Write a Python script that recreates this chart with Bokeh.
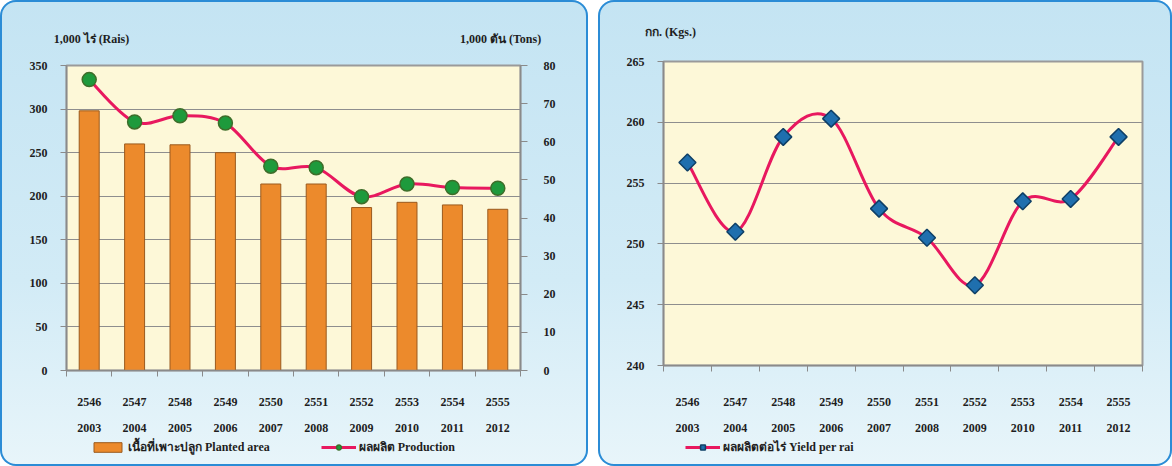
from bokeh.plotting import figure
from bokeh.models import (Range1d, LinearAxis, FixedTicker, Legend, LegendItem,
                          ColumnDataSource)
from bokeh.layouts import row, column
from bokeh.embed import file_html
from bokeh.resources import INLINE
import math

# ---------------- data ----------------
years_be = ["2546", "2547", "2548", "2549", "2550", "2551", "2552", "2553", "2554", "2555"]
years_ce = ["2003", "2004", "2005", "2006", "2007", "2008", "2009", "2010", "2011", "2012"]
planted_area = [298, 260, 259, 250, 214, 214, 187, 193, 190, 185]          # 1,000 rai
production = [76.3, 65.2, 66.8, 64.9, 53.6, 53.2, 45.6, 48.9, 48.0, 47.8]  # 1,000 tons
yield_per_rai = [256.7, 251.0, 258.8, 260.3, 252.9, 250.5, 246.6, 253.5, 253.7, 258.8]  # kg

left_ticks = [0, 50, 100, 150, 200, 250, 300, 350]
right_ticks = [0, 10, 20, 30, 40, 50, 60, 70, 80]
yield_ticks = [240, 245, 250, 255, 260, 265]

left_unit_title = "1,000 ไร่ (Rais)"
right_unit_title = "1,000 ตัน (Tons)"
yield_unit_title = "กก. (Kgs.)"
area_label = "เนื้อที่เพาะปลูก Planted area"
prod_label = "ผลผลิต Production"
yield_label = "ผลผลิตต่อไร่ Yield per rai"

# ---------------- styles ----------------
FONT = "Liberation Serif"
PLOT_BG = "#FDF8D8"
GRID = "#8E8E8E"
LINE = "#E8185F"
TXT = "#1E1E1E"
BAR_FILL = "#EC8A2C"
BAR_LINE = "#9A5A1E"
DOT_FILL = "#1E9A3C"
DOT_LINE = "#3E6E2A"
DIA_FILL = "#1F6FAE"
DIA_LINE = "#0E3F66"
PANEL_STYLE = {"border-radius": "16px",
               "box-shadow": "inset 0 0 0 2px #2B8CD6",
               "background": "linear-gradient(to bottom, #C4E4F3 0%, #D2EBF6 60%, #E8F5FA 100%)"}

n = len(years_be)
centers = [i + 0.5 for i in range(n)]
bounds = [i for i in range(n + 1)]


def bezier_source(xs, ys):
    """Catmull-Rom style control points so bezier segments pass through data."""
    d = dict(x0=[], y0=[], x1=[], y1=[], cx0=[], cy0=[], cx1=[], cy1=[])
    m = len(xs)
    for i in range(m - 1):
        a = i - 1 if i > 0 else i
        b = i + 2 if i + 2 < m else i + 1
        d["x0"].append(xs[i]); d["y0"].append(ys[i])
        d["x1"].append(xs[i + 1]); d["y1"].append(ys[i + 1])
        d["cx0"].append(xs[i] + (xs[i + 1] - xs[a]) / 6.0)
        d["cy0"].append(ys[i] + (ys[i + 1] - ys[a]) / 6.0)
        d["cx1"].append(xs[i + 1] - (xs[b] - xs[i]) / 6.0)
        d["cy1"].append(ys[i + 1] - (ys[b] - ys[i]) / 6.0)
    return ColumnDataSource(d)


def style_common(p):
    p.background_fill_color = PLOT_BG
    p.border_fill_alpha = 0
    p.outline_line_color = "#9A9A9A"
    p.outline_line_width = 2
    p.xgrid.grid_line_color = None
    p.ygrid.grid_line_color = GRID
    p.ygrid.grid_line_width = 1


def style_axis(ax, tick_out=6, standoff=14):
    ax.axis_line_color = "#8A8A8A"
    ax.axis_line_width = 1.5
    ax.major_tick_line_color = "#8A8A8A"
    ax.major_tick_out = tick_out
    ax.major_tick_in = 0
    ax.minor_tick_line_color = None
    ax.major_label_text_font = FONT
    ax.major_label_text_font_style = "bold"
    ax.major_label_text_font_size = "12px"
    ax.major_label_text_color = TXT
    ax.major_label_standoff = standoff


def bare_axis(ax, standoff):
    style_axis(ax, tick_out=0, standoff=standoff)
    ax.axis_line_color = None
    ax.major_tick_line_color = None
    ax.minor_tick_line_color = None


def add_x_axes(p, std1, std2):
    ax = p.xaxis[0]
    ax.ticker = FixedTicker(ticks=centers, minor_ticks=bounds)
    ax.major_label_overrides = {c: lab for c, lab in zip(centers, years_be)}
    style_axis(ax, tick_out=0, standoff=std1)
    ax.major_tick_line_color = None
    ax.minor_tick_line_color = "#8A8A8A"
    ax.minor_tick_out = 6
    ax.minor_tick_in = 0
    ax2 = LinearAxis(ticker=FixedTicker(ticks=centers, minor_ticks=[]),
                     major_label_overrides={c: lab for c, lab in zip(centers, years_ce)})
    bare_axis(ax2, std2)
    p.add_layout(ax2, "below")


def add_unit_titles(p, positions, texts, standoff):
    ax = LinearAxis(ticker=FixedTicker(ticks=positions, minor_ticks=[]),
                    major_label_overrides={x: t for x, t in zip(positions, texts)})
    bare_axis(ax, standoff)
    p.add_layout(ax, "above")


def legend_figure(width, height, yr):
    f = figure(width=width, height=height, output_backend="svg", toolbar_location=None,
               x_range=Range1d(0, n), y_range=yr,
               x_axis_location=None, y_axis_location=None,
               min_border=0, min_border_left=0, min_border_right=0,
               min_border_top=0, min_border_bottom=0)
    f.background_fill_alpha = 0
    f.border_fill_alpha = 0
    f.outline_line_color = None
    f.grid.grid_line_color = None
    return f


def make_legend(items, loc, spacing=0):
    return Legend(items=items, orientation="horizontal", location=loc,
                  background_fill_alpha=0, border_line_color=None,
                  label_text_font=FONT, label_text_font_style="bold",
                  label_text_font_size="12px", label_text_color=TXT,
                  glyph_width=35, glyph_height=12, spacing=spacing,
                  padding=0, margin=0, label_standoff=3)


MAIN_H = 436
LEG_H = 30

# ---------------- left chart ----------------
p1 = figure(width=588, height=MAIN_H, x_range=Range1d(0, n), y_range=Range1d(0, 350),
            output_backend="svg", toolbar_location=None,
            min_border_left=66, min_border_right=68, min_border_top=65, min_border_bottom=66)
p1.extra_y_ranges = {"prod": Range1d(0, 80)}
style_common(p1)
p1.yaxis[0].ticker = FixedTicker(ticks=left_ticks, minor_ticks=[])
style_axis(p1.yaxis[0], tick_out=6, standoff=13)
p1.ygrid.ticker = FixedTicker(ticks=left_ticks, minor_ticks=[])
rax = LinearAxis(y_range_name="prod", ticker=FixedTicker(ticks=right_ticks, minor_ticks=[]))
style_axis(rax, tick_out=7, standoff=16)
p1.add_layout(rax, "right")
add_x_axes(p1, 21, 15)
add_unit_titles(p1, [0.55, 9.56], [left_unit_title, right_unit_title], 20)

bar_src = ColumnDataSource(dict(x=centers, top=planted_area))
prod_src = ColumnDataSource(dict(x=centers, y=production))
yield_src = ColumnDataSource(dict(x=centers, y=yield_per_rai))

p1.vbar(x="x", top="top", width=0.44, source=bar_src,
        fill_color=BAR_FILL, line_color=BAR_LINE, line_width=1)
p1.bezier(x0="x0", y0="y0", x1="x1", y1="y1", cx0="cx0", cy0="cy0", cx1="cx1", cy1="cy1",
          source=bezier_source(centers, production), y_range_name="prod",
          line_color=LINE, line_width=3)
p1.scatter(x="x", y="y", source=prod_src, y_range_name="prod", marker="circle", size=14,
           fill_color=DOT_FILL, line_color=DOT_LINE, line_width=1.5)

# legend strip: hidden copies of the series, used only for the legend swatches
l1 = legend_figure(588, LEG_H, Range1d(0, 350))
lb = l1.vbar(x="x", top="top", width=0.4, source=bar_src, visible=False,
             fill_color=BAR_FILL, line_color=BAR_LINE)
ll = l1.line(x="x", y="y", source=prod_src, visible=False, line_color=LINE, line_width=3)
ls = l1.scatter(x="x", y="y", source=prod_src, visible=False, marker="circle", size=14,
                fill_color=DOT_FILL, line_color=DOT_LINE, line_width=1.5)
l1.add_layout(make_legend([LegendItem(label=area_label, renderers=[lb]),
                           LegendItem(label=prod_label, renderers=[ll, ls])],
                          (24, 10), spacing=51))

# ---------------- right chart ----------------
p2 = figure(width=574, height=MAIN_H, x_range=Range1d(0, n), y_range=Range1d(240, 265),
            output_backend="svg", toolbar_location=None,
            min_border_left=65, min_border_right=30, min_border_top=61, min_border_bottom=71)
style_common(p2)
p2.yaxis[0].ticker = FixedTicker(ticks=yield_ticks, minor_ticks=[])
style_axis(p2.yaxis[0], tick_out=6, standoff=13)
p2.ygrid.ticker = FixedTicker(ticks=yield_ticks, minor_ticks=[])
add_x_axes(p2, 26, 15)
add_unit_titles(p2, [0.146], [yield_unit_title], 23)

p2.bezier(x0="x0", y0="y0", x1="x1", y1="y1", cx0="cx0", cy0="cy0", cx1="cx1", cy1="cy1",
          source=bezier_source(centers, yield_per_rai), line_color=LINE, line_width=3)
p2.scatter(x="x", y="y", source=yield_src, marker="square", angle=math.pi / 4, size=12,
           fill_color=DIA_FILL, line_color=DIA_LINE, line_width=1.5)

l2 = legend_figure(574, LEG_H, Range1d(240, 265))
yl = l2.line(x="x", y="y", source=yield_src, visible=False, line_color=LINE, line_width=3)
ys = l2.scatter(x="x", y="y", source=yield_src, visible=False, marker="square",
                angle=math.pi / 4, size=12, fill_color=DIA_FILL, line_color=DIA_LINE,
                line_width=1.5)
l2.add_layout(make_legend([LegendItem(label=yield_label, renderers=[yl, ys])], (22, 10)))

layout = row(column(p1, l1, styles=PANEL_STYLE),
             column(p2, l2, styles=PANEL_STYLE), spacing=10)
open("out.html", "w").write(file_html(layout, INLINE))
